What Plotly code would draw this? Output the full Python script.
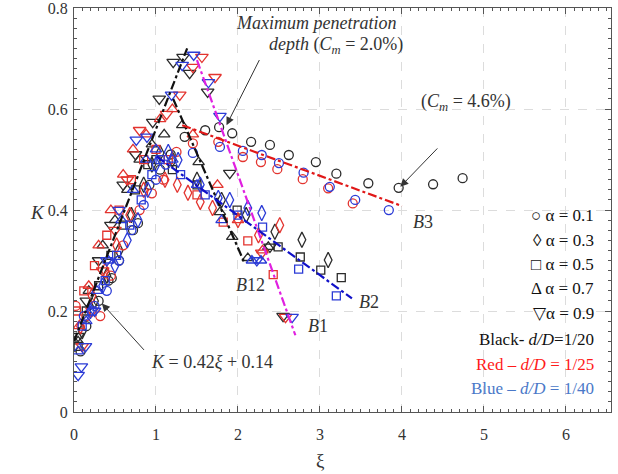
import plotly.graph_objects as go

# ---------------- data ----------------
alphas = ["0.1", "0.3", "0.5", "0.7", "0.9"]

# Black  (d/D = 1/20)
blk_a01_x = [0.08, 0.15, 0.30, 0.42, 0.46, 0.55, 0.72, 0.78, 0.92, 1.05, 1.18, 1.35, 1.60, 1.77, 1.93, 2.16, 2.39, 2.62, 2.95, 3.20, 3.59, 3.96, 4.38, 4.74]
blk_a01_y = [0.12, 0.17, 0.22, 0.26, 0.265, 0.30, 0.36, 0.374, 0.45, 0.48, 0.51, 0.545, 0.558, 0.564, 0.552, 0.535, 0.529, 0.509, 0.495, 0.472, 0.453, 0.444, 0.451, 0.463]
blk_a03_x = [0.10, 0.25, 0.40, 0.55, 0.70, 0.85, 0.95, 1.05, 1.20, 1.50, 1.80, 2.10, 2.45, 2.78, 3.10]
blk_a03_y = [0.16, 0.22, 0.27, 0.32, 0.39, 0.45, 0.49, 0.513, 0.50, 0.46, 0.42, 0.39, 0.357, 0.341, 0.301]
blk_a05_x = [0.05, 0.15, 0.30, 0.45, 0.60, 0.75, 0.90, 1.00, 1.20, 1.50, 1.99, 2.49, 2.76, 3.01, 3.26]
blk_a05_y = [0.13, 0.20, 0.25, 0.31, 0.37, 0.44, 0.49, 0.50, 0.48, 0.45, 0.40, 0.327, 0.307, 0.281, 0.266]
blk_a07_x = [0.05, 0.18, 0.35, 0.50, 0.65, 0.80, 0.95, 1.10, 1.32, 1.52, 1.78, 1.93, 2.12, 2.37]
blk_a07_y = [0.14, 0.24, 0.33, 0.38, 0.44, 0.50, 0.53, 0.55, 0.568, 0.495, 0.396, 0.347, 0.305, 0.327]
blk_a09_x = [0.05, 0.15, 0.30, 0.45, 0.60, 0.75, 0.96, 1.04, 1.21, 1.33, 1.41, 1.63, 1.90, 2.39, 2.55]
blk_a09_y = [0.15, 0.22, 0.30, 0.37, 0.45, 0.51, 0.574, 0.62, 0.693, 0.703, 0.671, 0.634, 0.473, 0.327, 0.19]

# Red  (d/D = 1/25)
red_a01_x = [0.02, 0.15, 0.32, 0.45, 0.60, 0.80, 0.95, 1.09, 1.25, 1.45, 1.76, 2.06, 2.28, 2.48, 2.79, 3.10, 3.40]
red_a01_y = [0.21, 0.19, 0.19, 0.27, 0.33, 0.40, 0.433, 0.46, 0.515, 0.532, 0.535, 0.505, 0.495, 0.481, 0.461, 0.443, 0.413]
red_a03_x = [0.08, 0.22, 0.38, 0.52, 0.68, 0.85, 1.11, 1.26, 1.39, 1.54, 1.69, 2.00, 2.25, 2.51]
red_a03_y = [0.17, 0.23, 0.28, 0.33, 0.39, 0.44, 0.46, 0.45, 0.434, 0.416, 0.404, 0.38, 0.35, 0.37]
red_a05_x = [0.03, 0.12, 0.25, 0.40, 0.55, 0.70, 0.85, 1.00, 1.15, 1.50, 1.82, 2.12, 2.43]
red_a05_y = [0.20, 0.24, 0.29, 0.35, 0.40, 0.46, 0.50, 0.52, 0.50, 0.43, 0.376, 0.339, 0.272]
red_a07_x = [0.06, 0.18, 0.30, 0.45, 0.60, 0.72, 0.88, 1.05, 1.20, 1.45, 1.75, 2.00, 2.30]
red_a07_y = [0.17, 0.25, 0.33, 0.40, 0.47, 0.52, 0.55, 0.58, 0.60, 0.55, 0.45, 0.38, 0.32]
red_a09_x = [0.10, 0.22, 0.35, 0.50, 0.65, 0.80, 1.13, 1.29, 1.45, 1.56, 1.72, 2.29, 2.58]
red_a09_y = [0.13, 0.20, 0.28, 0.36, 0.46, 0.558, 0.59, 0.628, 0.683, 0.703, 0.663, 0.315, 0.188]

# Blue  (d/D = 1/40)
blu_a01_x = [0.12, 0.25, 0.40, 0.55, 0.70, 0.85, 1.00, 1.12, 1.45, 1.78, 2.06, 2.29, 2.50, 2.80, 3.12, 3.43, 3.84]
blu_a01_y = [0.19, 0.21, 0.24, 0.30, 0.36, 0.41, 0.46, 0.49, 0.513, 0.525, 0.517, 0.509, 0.493, 0.474, 0.446, 0.42, 0.40]
blu_a03_x = [0.20, 0.35, 0.50, 0.65, 0.78, 0.90, 1.00, 1.15, 1.27, 1.54, 1.76, 1.90, 2.12, 2.29]
blu_a03_y = [0.20, 0.25, 0.29, 0.34, 0.38, 0.44, 0.49, 0.515, 0.499, 0.45, 0.424, 0.42, 0.404, 0.394]
blu_a05_x = [0.10, 0.22, 0.38, 0.52, 0.68, 0.82, 0.95, 1.05, 1.30, 1.60, 2.00, 2.30, 2.74, 3.20]
blu_a05_y = [0.17, 0.20, 0.26, 0.31, 0.37, 0.42, 0.47, 0.50, 0.47, 0.43, 0.39, 0.366, 0.283, 0.23]
blu_a07_x = [0.05, 0.15, 0.28, 0.42, 0.58, 0.72, 0.88, 1.00, 1.20, 1.50, 1.80, 2.17, 2.28]
blu_a07_y = [0.12, 0.18, 0.24, 0.30, 0.38, 0.44, 0.50, 0.52, 0.50, 0.45, 0.38, 0.30, 0.30]
blu_a09_x = [0.05, 0.09, 0.14, 0.25, 0.40, 0.55, 0.76, 0.89, 1.19, 1.32, 1.46, 1.64, 1.78, 2.23, 2.66]
blu_a09_y = [0.073, 0.09, 0.13, 0.20, 0.30, 0.40, 0.539, 0.545, 0.628, 0.687, 0.707, 0.653, 0.586, 0.30, 0.188]

# Fitted lines (end points)
rise_x = [0.0, 1.38]          # K = 0.42 xi + 0.14
rise_y = [0.14, 0.72]
b12_x = [1.21, 2.08]
b12_y = [0.62, 0.295]
b1_x = [1.50, 2.70]
b1_y = [0.697, 0.152]
b2_x = [1.01, 3.39]
b2_y = [0.506, 0.225]
b3_x = [1.32, 4.00]
b3_y = [0.568, 0.408]

x_ticks = [0, 1, 2, 3, 4, 5, 6]
y_ticks = [0, 0.2, 0.4, 0.6, 0.8]
y_tick_text = ["0", "0.2", "0.4", "0.6", "0.8"]

# ---------------- figure ----------------
W, H = 618, 474
ML, MR, MT, MB = 74, 7, 8, 62
PW, PH = W - ML - MR, H - MT - MB

BLACK = "#2b2b2b"
RED = "#e3342f"
BLUE = "#2b3bd6"
symbols = ["circle-open", "diamond-tall-open", "square-open", "triangle-up-open", "triangle-down-open"]
sizes = [9, 11, 8, 10, 11]

series = [
    (BLACK, [(blk_a01_x, blk_a01_y), (blk_a03_x, blk_a03_y), (blk_a05_x, blk_a05_y), (blk_a07_x, blk_a07_y), (blk_a09_x, blk_a09_y)]),
    (RED, [(red_a01_x, red_a01_y), (red_a03_x, red_a03_y), (red_a05_x, red_a05_y), (red_a07_x, red_a07_y), (red_a09_x, red_a09_y)]),
    (BLUE, [(blu_a01_x, blu_a01_y), (blu_a03_x, blu_a03_y), (blu_a05_x, blu_a05_y), (blu_a07_x, blu_a07_y), (blu_a09_x, blu_a09_y)]),
]

fig = go.Figure()
for color, lst in series:
    for i, (xs, ys) in enumerate(lst):
        fig.add_trace(go.Scatter(
            x=xs, y=ys, mode="markers",
            marker=dict(symbol=symbols[i], size=sizes[i], color=color,
                        line=dict(width=1.3, color=color)),
            showlegend=False, hoverinfo="skip"))

for xs, ys, col in [(rise_x, rise_y, "#111111"), (b12_x, b12_y, "#111111"),
                    (b1_x, b1_y, "#e020e0"), (b2_x, b2_y, "#1010c8"), (b3_x, b3_y, "#e01818")]:
    fig.add_trace(go.Scatter(x=xs, y=ys, mode="lines",
                             line=dict(color=col, width=2.2, dash="dashdot"),
                             showlegend=False, hoverinfo="skip"))

SERIF = "Liberation Serif"
TXT = "#333333"
ann = []
def txt(x, y, t, size=17, color=TXT, xanchor="center"):
    ann.append(dict(x=x, y=y, xref="x", yref="y", text=t, showarrow=False,
                    xanchor=xanchor, yanchor="middle",
                    font=dict(family=SERIF, size=size, color=color)))

def ptxt(px, py, t, size=17, color=TXT, xanchor="center", textangle=0):
    ann.append(dict(x=(px - ML) / PW, y=(H - MB - py) / PH, xref="paper", yref="paper",
                    text=t, showarrow=False, xanchor=xanchor, yanchor="middle",
                    textangle=textangle,
                    font=dict(family=SERIF, size=size, color=color)))

def arrow(x, y, ax, ay):
    ann.append(dict(x=x, y=y, ax=ax, ay=ay, xref="x", yref="y", axref="x", ayref="y",
                    text="", showarrow=True, arrowhead=2, arrowsize=1.6,
                    arrowwidth=1.0, arrowcolor="#333333"))

txt(2.95, 0.77, "<i>Maximum penetration</i>", size=18)
txt(3.2, 0.725, "<i>depth</i> (<i>C<sub>m</sub></i> = 2.0%)", size=18)
arrow(1.86, 0.568, 2.27, 0.70)
txt(4.78, 0.612, "(<i>C<sub>m</sub></i> = 4.6%)", size=18)
arrow(3.98, 0.446, 4.45, 0.525)
txt(1.68, 0.1, "<i>K</i> = 0.42<i>ξ</i> + 0.14", size=18)
arrow(0.34, 0.215, 0.87, 0.12)
txt(2.15, 0.252, "<i>B</i>12", size=18)
txt(3.6, 0.218, "<i>B</i>2", size=18)
txt(2.98, 0.17, "<i>B</i>1", size=18)
txt(4.26, 0.376, "<i>B</i>3", size=18)

legend_lines = [
    ("○ α = 0.1", "#111111"),
    ("◊ α = 0.3", "#111111"),
    ("□ α = 0.5", "#111111"),
    ("Δ α = 0.7", "#111111"),
    ("▽α = 0.9", "#111111"),
    ("Black- <i>d/D</i>=1/20", "#111111"),
    ("Red – <i>d/D</i> = 1/25", "#ff1a1a"),
    ("Blue – <i>d/D</i> = 1/40", "#4a78c8"),
]
leg_y_px = [215, 240, 264, 288, 313, 339, 364, 388]
for (t, c), py in zip(legend_lines, leg_y_px):
    ptxt(596, py, t, size=17, color=c, xanchor="right")

# axis titles placed manually
ptxt(320, 460, "ξ", size=19)
ptxt(37, 212, "<i>K</i>", size=19)

fig.update_layout(
    width=W, height=H,
    margin=dict(l=ML, r=MR, t=MT, b=MB, autoexpand=False),
    plot_bgcolor="white", paper_bgcolor="white",
    annotations=ann,
    font=dict(family=SERIF, size=16, color=TXT),
)

axis_common = dict(
    showline=True, linecolor="#555555", linewidth=1.2, mirror="allticks",
    ticks="inside", ticklen=6, tickcolor="#555555", tickwidth=1,
    showgrid=True, gridcolor="#dcdcdc", griddash="dash", gridwidth=1,
    zeroline=False, automargin=False, ticklabeloverflow="allow",
    tickfont=dict(family=SERIF, size=16, color=TXT),
)
fig.update_xaxes(range=[0, 6.55], tickvals=x_ticks, ticklabelstandoff=8,
                 minor=dict(dtick=0.1, tick0=0, ticks="inside", ticklen=3, tickcolor="#555555", showgrid=False),
                 **axis_common)
fig.update_yaxes(range=[0, 0.8001], tickvals=y_ticks, ticktext=y_tick_text, ticklabelstandoff=2,
                 minor=dict(dtick=0.02, tick0=0, ticks="inside", ticklen=3, tickcolor="#555555", showgrid=False),
                 **axis_common)

fig.write_html("out.html", config={"displayModeBar": False},
               post_script="document.body.style.margin='0';")
